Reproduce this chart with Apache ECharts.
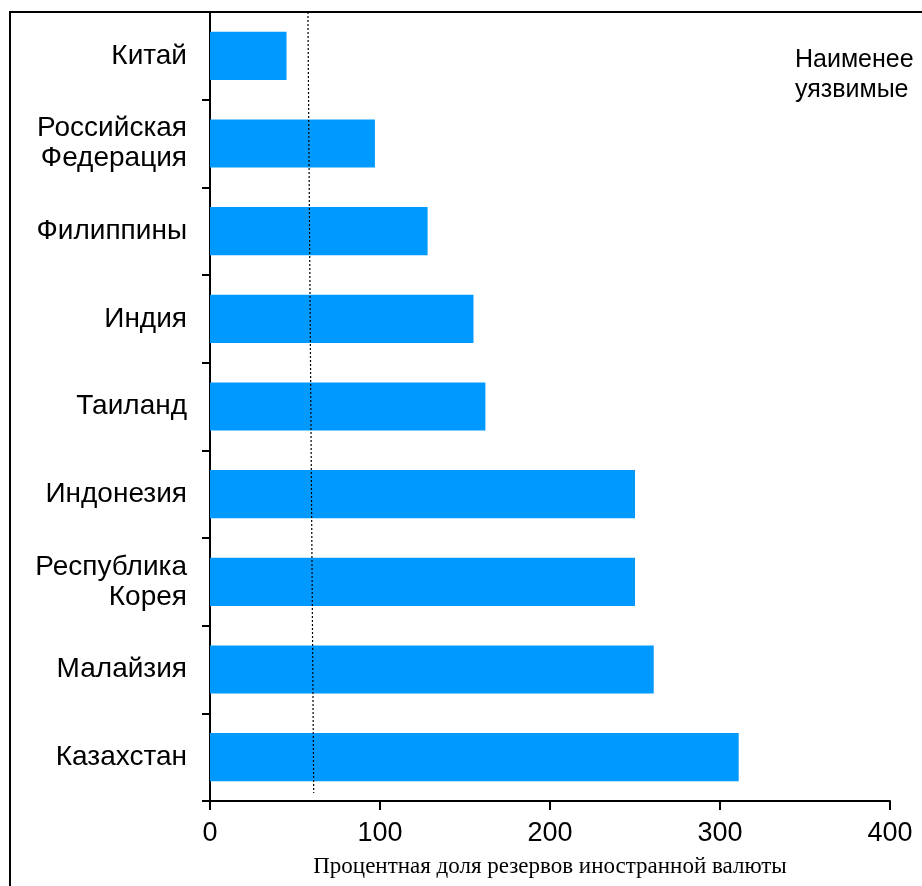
<!DOCTYPE html>
<html>
<head>
<meta charset="utf-8">
<script src="https://cdn.jsdelivr.net/npm/echarts@6/dist/echarts.min.js"></script>
<style>
html,body{margin:0;padding:0;background:#fff;}
#chart{width:922px;height:886px;}
</style>
</head>
<body>
<div id="chart"></div>
<script>
var categories = ['Китай', 'Российская\nФедерация', 'Филиппины', 'Индия', 'Таиланд', 'Индонезия', 'Республика\nКорея', 'Малайзия', 'Казахстан'];
var values = [45, 97, 128, 155, 162, 250, 250, 261, 311];
var xTicks = [0, 100, 200, 300, 400];
var thresholdLine = [[57.6, 1], [61, 0.01]];
var axisTitle = 'Процентная доля резервов иностранной валюты';
var noteText = 'Наименее\nуязвимые';

var chart = echarts.init(document.getElementById('chart'), null, {renderer: 'canvas'});
var font = 'Arial, "Liberation Sans", sans-serif';
chart.setOption({
  animation: false,
  backgroundColor: '#fff',
  grid: {left: 210, right: 32, top: 12, bottom: 85, containLabel: false},
  xAxis: {
    type: 'value', min: xTicks[0], max: xTicks[xTicks.length - 1], interval: 100,
    axisLine: {show: true, lineStyle: {color: '#000', width: 2}},
    axisTick: {show: true, inside: false, length: 9, lineStyle: {color: '#000', width: 2}},
    axisLabel: {color: '#000', fontSize: 27, fontFamily: font, margin: 19},
    splitLine: {show: false},
    name: axisTitle, nameLocation: 'middle', nameGap: 54,
    nameTextStyle: {color: '#000', fontSize: 23, fontFamily: '"Liberation Serif", "Times New Roman", serif'}
  },
  yAxis: [{
    type: 'category', data: categories, inverse: true,
    axisLine: {show: true, lineStyle: {color: '#000', width: 2}},
    axisTick: {show: true, inside: false, length: 8, lineStyle: {color: '#000', width: 2}},
    axisLabel: {color: '#000', fontSize: 28, fontFamily: font, margin: 23, lineHeight: 30, align: 'right'},
    splitLine: {show: false}
  }, {
    type: 'value', min: 0, max: 1, show: false
  }],
  series: [{
    type: 'bar', data: values, barWidth: '55%',
    itemStyle: {color: '#0099FF'}
  }, {
    type: 'line', yAxisIndex: 1, data: thresholdLine, symbol: 'none',
    lineStyle: {color: '#000', width: 1.2, type: [2, 2]}
  }],
  graphic: [{
    type: 'rect', shape: {x: 10, y: 12, width: 1000, height: 1000},
    style: {fill: 'none', stroke: '#000', lineWidth: 2}, z: 100
  }, {
    type: 'text', left: 795, top: 45,
    style: {text: noteText, fill: '#000', font: '25px ' + font, lineHeight: 30}
  }]
});
</script>
</body>
</html>
